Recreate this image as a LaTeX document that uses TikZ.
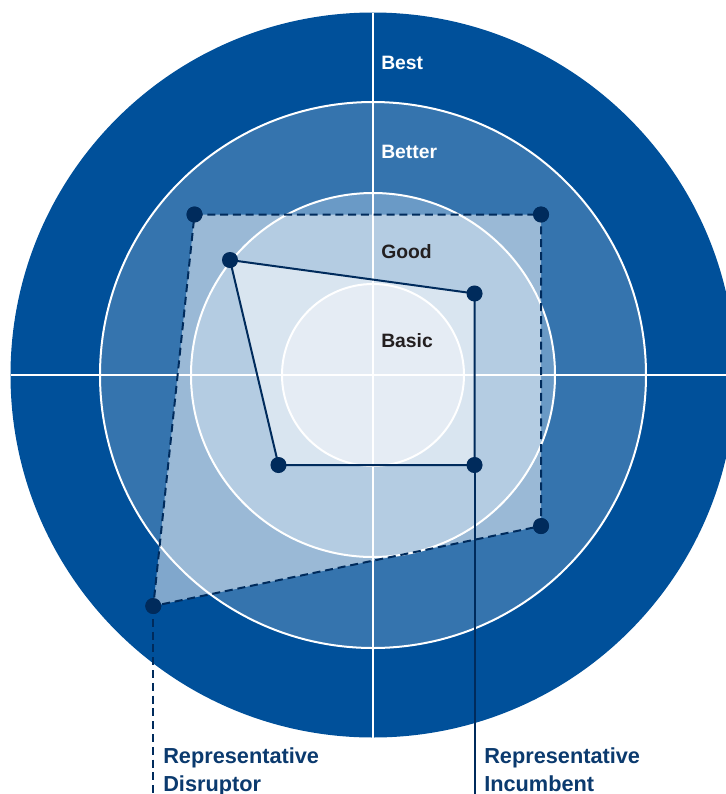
\documentclass[tikz,border=0pt]{standalone}
\usepackage{fontspec}
\setmainfont{Liberation Sans}
\definecolor{outerblue}{HTML}{00509A}
\definecolor{betterblue}{HTML}{3574AE}
\definecolor{goodblue}{HTML}{6A9AC6}
\definecolor{basicblue}{HTML}{98B4D4}
\definecolor{navy}{HTML}{002B5C}
\definecolor{labelnavy}{HTML}{0B3A6E}
\definecolor{labeldark}{HTML}{231F20}
\tikzset{
  ringline/.style={draw=white, line width=1.5pt},
  dot/.style={circle, fill=navy, inner sep=0pt, minimum size=12pt},
  dashline/.style={draw=navy, line width=1.5pt, dash pattern=on 6pt off 3.6pt},
  solidline/.style={draw=navy, line width=1.5pt},
  ringlabel/.style={anchor=base west, inner sep=0pt, font=\bfseries\fontsize{14.5pt}{18pt}\selectfont},
  replabel/.style={anchor=north west, inner sep=0pt, align=left, text=labelnavy, font=\bfseries\fontsize{16.3pt}{21pt}\selectfont}
}
\begin{document}
\begin{tikzpicture}[x=0.75pt,y=-0.75pt]
\useasboundingbox (0,0) rectangle (726,794);
\begin{scope}
\clip (0,0) rectangle (726,794);
\fill[outerblue] (373,375) circle (362.5);
\fill[betterblue] (373,375) circle (273);
\fill[goodblue] (373,375) circle (182);
\fill[basicblue] (373,375) circle (91);
\draw[ringline] (373,375) circle (273);
\draw[ringline] (373,375) circle (182);
\draw[ringline] (373,375) circle (91);
\draw[ringline] (10.5,375) -- (735.5,375);
\draw[ringline] (373,12.5) -- (373,737.5);
\end{scope}
% disruptor points
\node[dot] (d1) at (194.5,214.5) {};
\node[dot] (d2) at (541,214.5) {};
\node[dot] (d3) at (541,526) {};
\node[dot] (d4) at (153.3,606) {};
% incumbent points
\node[dot] (i1) at (230,260) {};
\node[dot] (i2) at (474.5,293.5) {};
\node[dot] (i3) at (474.5,465) {};
\node[dot] (i4) at (278.5,465) {};
\coordinate (dend) at (153.3,794);
\coordinate (iend) at (474.5,794);
\fill[white, opacity=0.5] (d1.center) -- (d2.center) -- (d3.center) -- (d4.center) -- cycle;
\fill[white, opacity=0.5] (i1.center) -- (i2.center) -- (i3.center) -- (i4.center) -- cycle;
\draw[dashline] (d1.center) -- (d2.center) -- (d3.center) -- (d4.center) -- cycle;
\draw[dashline] (d4.center) -- (dend);
\draw[solidline] (i1.center) -- (i2.center) -- (i3.center) -- (i4.center) -- cycle;
\draw[solidline] (i3.center) -- (iend);
% redraw dots on top
\foreach \n in {d1,d2,d3,d4,i1,i2,i3,i4} \fill[navy] (\n) circle (8);
% labels
\node[ringlabel, text=white] (best) at (381,69) {Best};
\node[ringlabel, text=white] (better) at (381,158) {Better};
\node[ringlabel, text=labeldark] (good) at (381,258.5) {Good};
\node[ringlabel, text=labeldark] (basic) at (381,347) {Basic};
\node[replabel] (disr) at (163,747) {Representative\\Disruptor};
\node[replabel] (inc) at (484,747) {Representative\\Incumbent};
\end{tikzpicture}
\end{document}
